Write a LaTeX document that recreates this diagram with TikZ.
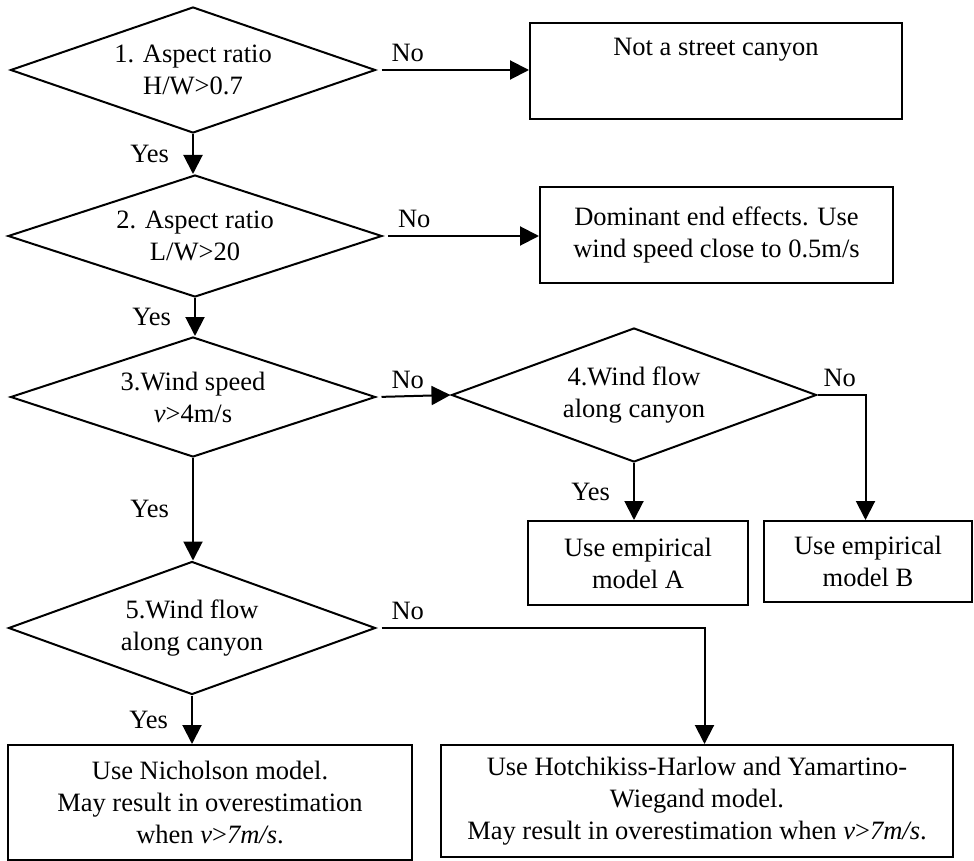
\documentclass[tikz,border=0pt]{standalone}
\usepackage{fontspec}
\setmainfont{Liberation Serif}
\usetikzlibrary{arrows.meta,positioning,calc,shapes.geometric}
\tikzset{
  dec/.style={diamond,draw,line width=2pt,inner sep=0pt,align=center,aspect=2.9},
  box/.style={rectangle,draw,line width=2pt,inner sep=0pt,align=center},
  arr/.style={-{Triangle[length=19pt,width=19pt]},line width=2pt},
  noline/.style={arr,shorten <=5pt},
  nolab/.style={pos=0,anchor=south west,inner sep=0pt,xshift=14pt,yshift=7pt},
  yeslab/.style={midway,left=23pt,inner sep=0pt},
}

\begin{document}
\begin{tikzpicture}[x=1pt,y=1pt,every node/.style={font=\fontsize{26.5}{32}\selectfont}]
\useasboundingbox (0,0) rectangle (974,-861);
% Decisions
\node[dec,minimum width=365pt,minimum height=126pt] (q1) at (193,-70) {1. Aspect ratio\\H/W>0.7};
\node[dec,minimum width=374pt,minimum height=122pt] (q2) at (195,-236) {2. Aspect ratio\\L/W>20};
\node[dec,minimum width=365pt,minimum height=120pt] (q3) at (193,-397) {3.Wind speed\\\textit{v}>4m/s};
\node[dec,minimum width=365pt,minimum height=134pt] (q4) at (634,-395) {4.Wind flow\\along canyon};
\node[dec,minimum width=367pt,minimum height=133pt] (q5) at (192,-628) {5.Wind flow\\along canyon};
% Results
\node[box,minimum width=372pt,minimum height=96pt,
  label={[anchor=north,yshift=-13pt]north:Not a street canyon}] (r1) at (716,-71) {};
\node[box,minimum width=353pt,minimum height=96pt] (r2) at (716.5,-235) {Dominant end effects. Use\\wind speed close to 0.5m/s};
\node[box,minimum width=220pt,minimum height=84pt] (ra) at (638,-563) {Use empirical\\model A};
\node[box,minimum width=208pt,minimum height=81pt] (rb) at (868,-561.5) {Use empirical\\model B};
\node[box,minimum width=404pt,minimum height=115pt] (rn) at (210,-802.5) {Use Nicholson model.\\May result in overestimation\\when \textit{v}>\textit{7m/s}.};
\node[box,minimum width=512pt,minimum height=112pt] (rh) at (697,-801) {Use Hotchikiss-Harlow and Yamartino-\\Wiegand model.\\May result in overestimation when \textit{v}>\textit{7m/s}.};
% Bends of the No branches
\coordinate (k4) at ($(q4.east)+(48,0)$);
\coordinate (k5) at ($(q5.east)+(328,0)$);
% Yes branches
\draw[arr] (q1.south) -- node[yeslab] {Yes} (q1.south |- q2.north);
\draw[arr] (q2.south) -- node[yeslab] {Yes} (q2.south |- q3.north);
\draw[arr] (q3.south) -- node[yeslab] {Yes} (q3.south |- q5.north);
\draw[arr] (q5.south) -- node[yeslab] {Yes} (q5.south |- rn.north);
\draw[arr] (q4.south) -- node[yeslab] {Yes} (q4.south |- ra.north);
% No branches
\draw[noline] (q1.east) -- node[nolab] {No} (q1.east -| r1.west);
\draw[noline] (q2.east) -- node[nolab] {No} (q2.east -| r2.west);
\draw[noline] (q3.east) -- node[nolab] {No} (q4.west);
\draw[arr] (q4.east) -- node[nolab,xshift=-9pt] {No} (k4) -- (k4 |- rb.north);
\draw[noline] (q5.east) -- node[nolab] {No} (k5) -- (k5 |- rh.north);
\end{tikzpicture}
\end{document}
